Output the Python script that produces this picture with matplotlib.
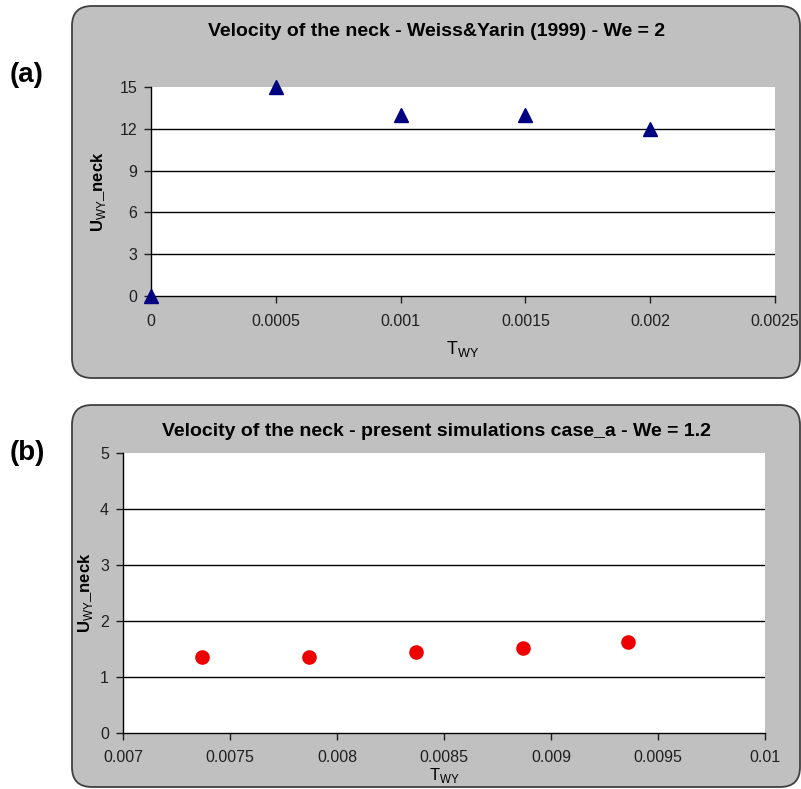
import matplotlib
matplotlib.use("Agg")
import matplotlib.pyplot as plt
from matplotlib.patches import FancyBboxPatch

plt.rcParams['font.family'] = ['Liberation Sans', 'DejaVu Sans']
plt.rcParams['mathtext.fontset'] = 'custom'
plt.rcParams['mathtext.rm'] = 'Liberation Sans'
plt.rcParams['mathtext.bf'] = 'Liberation Sans:bold'

# Weiss & Yarin (1999), We = 2
t_wy = [0.0, 0.0005, 0.001, 0.0015, 0.002]
u_wy = [0.0, 15.0, 13.0, 13.0, 12.0]
xticks_a = [0, 0.0005, 0.001, 0.0015, 0.002, 0.0025]
xlabels_a = ["0", "0.0005", "0.001", "0.0015", "0.002", "0.0025"]
yticks_a = [0, 3, 6, 9, 12, 15]

# present simulations case_a, We = 1.2
t_sim = [0.00737, 0.00787, 0.00837, 0.00887, 0.00936]
u_sim = [1.35, 1.35, 1.44, 1.52, 1.63]
xticks_b = [0.007, 0.0075, 0.008, 0.0085, 0.009, 0.0095, 0.01]
xlabels_b = ["0.007", "0.0075", "0.008", "0.0085", "0.009", "0.0095", "0.01"]
yticks_b = [0, 1, 2, 3, 4, 5]

W, H = 801, 789
fig = plt.figure(figsize=(W / 100, H / 100), dpi=100)


def fx(px):
    return px / W


def fy(py):
    return 1 - py / H


def panel(x0, y0, x1, y1, title, title_y):
    box = FancyBboxPatch((fx(x0), fy(y1)), fx(x1 - x0), (y1 - y0) / H,
                         boxstyle="round,pad=0,rounding_size=0.025",
                         transform=fig.transFigure, facecolor="#c0c0c0",
                         edgecolor="#404040", linewidth=1.3, zorder=-5)
    fig.add_artist(box)
    fig.text(fx((x0 + x1) / 2), fy(title_y), title, fontsize=14,
             fontweight="bold", ha="center", va="center")


def style(ax, xticks, xlabels, yticks, xpad, ypad):
    ax.set_facecolor("white")
    ax.set_xlim(xticks[0], xticks[-1])
    ax.set_ylim(yticks[0], yticks[-1])
    ax.set_xticks(xticks)
    ax.set_xticklabels(xlabels)
    ax.set_yticks(yticks)
    for y in yticks[1:-1]:
        ax.axhline(y, color="black", linewidth=1.0, zorder=1)
    for s in ["top", "right"]:
        ax.spines[s].set_visible(False)
    for s in ["left", "bottom"]:
        ax.spines[s].set_color("black")
        ax.spines[s].set_linewidth(1.0)
    ax.tick_params(direction="out", length=5, width=1.0, labelsize=11.5,
                   colors="#202020")
    ax.tick_params(axis="x", pad=xpad)
    ax.tick_params(axis="y", pad=5)
    ax.set_ylabel(r"$\mathbf{U}_{\mathrm{WY}}\mathbf{\_neck}$", fontsize=12,
                  labelpad=ypad)


panel(72, 6, 800, 378, "Velocity of the neck - Weiss&Yarin (1999) - We = 2", 32)
panel(72, 405, 800, 787,
      "Velocity of the neck - present simulations case_a - We = 1.2", 432)

ax1 = fig.add_axes([fx(151), fy(296), fx(775 - 151), (296 - 87) / H])
style(ax1, xticks_a, xlabels_a, yticks_a, 8, 8)
ax1.plot(t_wy, u_wy, linestyle="none", marker="^", markersize=9.5,
         color="#000080", clip_on=False, zorder=3)
ax1.set_xlabel(r"$\mathrm{T}_{\mathrm{WY}}$", fontsize=13, labelpad=7)

ax2 = fig.add_axes([fx(123), fy(733), fx(765 - 123), (733 - 453) / H])
style(ax2, xticks_b, xlabels_b, yticks_b, 7, 4)
ax2.plot(t_sim, u_sim, linestyle="none", marker="o", markersize=9.5,
         color="#ee0000", zorder=3)
ax2.set_xlabel(r"$\mathrm{T}_{\mathrm{WY}}$", fontsize=12, labelpad=1)

fig.text(fx(10), fy(75), "(a)", fontsize=20, fontweight="bold", va="center")
fig.text(fx(10), fy(453), "(b)", fontsize=20, fontweight="bold", va="center")

fig.savefig("out.png", dpi=100)
